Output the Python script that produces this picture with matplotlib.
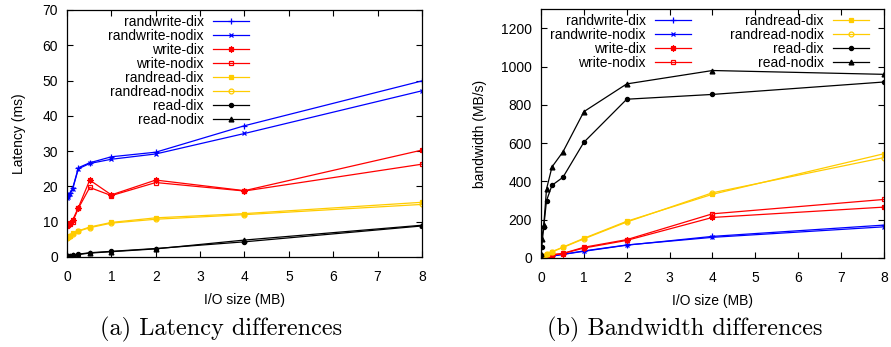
import matplotlib
matplotlib.use("Agg")
import matplotlib.pyplot as plt

plt.rcParams["font.family"] = ["Liberation Sans", "DejaVu Sans"]
plt.rcParams["font.size"] = 10

# I/O sizes in MB (4K, 16K, 64K, 128K, 256K, 512K, 1M, 2M, 4M, 8M)
io_size = [0.004, 0.016, 0.064, 0.128, 0.256, 0.512, 1, 2, 4, 8]

series_names = ["randwrite-dix", "randwrite-nodix", "write-dix", "write-nodix",
                "randread-dix", "randread-nodix", "read-dix", "read-nodix"]

# latency (ms)
lat_randwrite_dix = [17.0, 17.3, 18.0, 19.5, 25.3, 26.7, 28.4, 29.7, 37.2, 49.9]
lat_randwrite_nodix = [16.8, 17.0, 17.8, 19.3, 25.0, 26.5, 27.7, 29.2, 35.0, 47.1]
lat_write_dix = [9.0, 9.3, 9.6, 10.5, 14.0, 21.8, 17.6, 21.8, 18.8, 30.3]
lat_write_nodix = [8.7, 9.0, 9.3, 10.0, 13.8, 19.7, 17.4, 21.1, 18.7, 26.3]
lat_randread_dix = [5.5, 5.7, 6.0, 6.8, 7.4, 8.5, 9.8, 11.1, 12.3, 15.5]
lat_randread_nodix = [5.4, 5.6, 5.9, 6.6, 7.3, 8.3, 9.6, 10.7, 12.0, 14.9]
lat_read_dix = [0.2, 0.3, 0.4, 0.6, 0.8, 1.2, 1.6, 2.4, 4.3, 8.8]
lat_read_nodix = [0.2, 0.3, 0.4, 0.5, 0.7, 1.1, 1.5, 2.3, 4.8, 9.0]

# bandwidth (MB/s)
bw_randwrite_dix = [0.2, 0.8, 3.5, 6.5, 10, 19, 35, 67, 113, 172]
bw_randwrite_nodix = [0.2, 0.8, 3.6, 6.6, 10, 19, 37, 68, 108, 163]
bw_write_dix = [0.4, 1.5, 6, 9, 16, 23, 52, 92, 212, 266]
bw_write_nodix = [0.4, 1.5, 6, 9, 17, 24, 56, 96, 231, 306]
bw_randread_dix = [1, 3, 12, 19, 33, 57, 103, 192, 333, 545]
bw_randread_nodix = [1, 3, 12, 19, 32, 55, 100, 188, 341, 525]
bw_read_dix = [18, 57, 163, 300, 380, 422, 605, 830, 855, 920]
bw_read_nodix = [20, 100, 170, 360, 476, 555, 765, 910, 980, 960]

latency = [lat_randwrite_dix, lat_randwrite_nodix, lat_write_dix, lat_write_nodix,
           lat_randread_dix, lat_randread_nodix, lat_read_dix, lat_read_nodix]
bandwidth = [bw_randwrite_dix, bw_randwrite_nodix, bw_write_dix, bw_write_nodix,
             bw_randread_dix, bw_randread_nodix, bw_read_dix, bw_read_nodix]

BLUE, RED, GOLD, BLACK = "#0000ff", "#ff0000", "#ffcc00", "#000000"
styles = [
    dict(color=BLUE, marker="+", mfc=BLUE, ms=4.5),
    dict(color=BLUE, marker="x", mfc=BLUE, ms=3.5),
    dict(color=RED, marker=(8, 2, 0), mfc=RED, ms=4.5),
    dict(color=RED, marker="s", mfc="none", ms=3.5),
    dict(color=GOLD, marker="s", mfc=GOLD, ms=3.5),
    dict(color=GOLD, marker="o", mfc="none", ms=3.5),
    dict(color=BLACK, marker="o", mfc=BLACK, ms=3),
    dict(color=BLACK, marker="^", mfc=BLACK, ms=3.5),
]

fig = plt.figure(figsize=(8.91, 3.47), dpi=100)
ax1 = fig.add_axes([0.0752, 0.2594, 0.3984, 0.7118])
ax2 = fig.add_axes([0.6072, 0.2565, 0.3849, 0.7167])

legend_kw = dict(frameon=False, markerfirst=False, borderpad=0, borderaxespad=0,
                 handlelength=2.6, handletextpad=0.65, labelspacing=0.0,
                 fontsize=10, loc="upper right")


def draw(ax, data):
    for name, ys, st in zip(series_names, data, styles):
        ax.plot(io_size, ys, label=name, lw=0.9, mew=0.9, **st)
    ax.set_xlim(0, 8)
    ax.set_xticks(range(0, 9))
    ax.tick_params(direction="in", top=True, right=True, length=4, width=0.8,
                   labelsize=10)
    ax.tick_params(axis="x", pad=9.5)
    ax.tick_params(axis="y", pad=6.5)
    for s in ax.spines.values():
        s.set_linewidth(0.9)
    ax.set_xlabel("I/O size (MB)", labelpad=6)


draw(ax1, latency)
ax1.set_ylim(0, 70)
ax1.set_yticks(range(0, 71, 10))
ax1.set_ylabel("Latency (ms)", labelpad=12)
ax1.legend(bbox_to_anchor=((249 - 67) / 355, (257 - 15) / 247), **legend_kw)

draw(ax2, bandwidth)
ax2.set_ylim(0, 1300)
ax2.set_yticks(range(0, 1201, 200))
ax2.set_ylabel("bandwidth (MB/s)", labelpad=10)
ax2.legend(bbox_to_anchor=((869 - 541) / 343, (258 - 14) / 249), ncol=2,
           columnspacing=2.8, **legend_kw)

fig.text(0.248, 0.052, "(a) Latency differences", family="cmr10", fontsize=17.5,
         ha="center", va="center")
fig.text(0.768, 0.052, "(b) Bandwidth differences", family="cmr10", fontsize=17.5,
         ha="center", va="center")

fig.savefig("out.png", dpi=100)
